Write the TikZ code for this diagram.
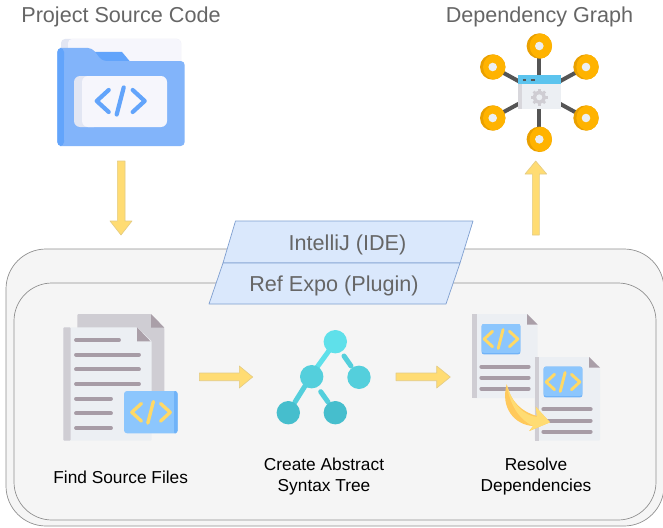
\documentclass[tikz,border=0pt]{standalone}
\usepackage{fontspec}
\setmainfont{Liberation Sans}
\definecolor{boxfill}{HTML}{F5F5F5}
\definecolor{boxline}{HTML}{909090}
\definecolor{yel}{HTML}{FFDC73}
\definecolor{yelline}{HTML}{E3CB84}
\definecolor{para}{HTML}{DAE8FC}
\definecolor{paraline}{HTML}{7F9FD0}
\definecolor{greytext}{HTML}{666666}
\definecolor{foldb}{HTML}{82B4FA}
\definecolor{foldd}{HTML}{62A4FB}
\definecolor{paper}{HTML}{F6F6FC}
\definecolor{papers}{HTML}{E2E6F3}
\definecolor{docw}{HTML}{ECEFF3}
\definecolor{docg}{HTML}{CFCDD3}
\definecolor{docf}{HTML}{AA9FA8}
\definecolor{lineg}{HTML}{A79CA6}
\definecolor{chip}{HTML}{8CC6FD}
\definecolor{chipd}{HTML}{70B3F8}
\definecolor{glyphy}{HTML}{FFD966}
\definecolor{orgl}{HTML}{FFB300}
\definecolor{orgd}{HTML}{E9A000}
\definecolor{stem}{HTML}{555555}
\definecolor{wbar}{HTML}{5CC4EE}
\definecolor{tealA}{HTML}{5FE0EA}
\definecolor{tealB}{HTML}{54CFDC}
\definecolor{tealC}{HTML}{46BECD}
\tikzset{
  outerbox/.style={draw=boxline,fill=boxfill,line width=.7pt,rounded corners=40pt},
  innerbox/.style={draw=boxline,fill=boxfill,line width=.7pt,rounded corners=38pt},
  blockarrow/.style={fill=yel,draw=yelline,line width=.6pt,line join=round},
  paragon/.style={fill=para,draw=paraline,line width=.7pt,line join=round},
  headtext/.style={text=greytext,font=\fontsize{21.6}{26}\selectfont,inner sep=0pt},
  paratext/.style={text=greytext,font=\fontsize{21.6}{26}\selectfont,inner sep=0pt},
  steptext/.style={text=black,font=\fontsize{17.3}{21}\selectfont,align=center,inner sep=0pt},
  docline/.style={draw=lineg,line width=3.8pt,line cap=round},
  branch/.style={line width=5pt,line cap=round},
}
% code glyph: centre x, centre y, scale, colour
\newcommand{\codeglyph}[4]{%
  \begin{scope}[shift={(#1,#2)},x=#3pt,y=-#3pt,line cap=round,line join=round,line width=#3*4.2pt,draw=#4]
    \draw (-12,-11) -- (-24,0) -- (-12,11);
    \draw (12,-11) -- (24,0) -- (12,11);
    \draw (3,-13.5) -- (-4,13.5);
  \end{scope}}
% hub disc
\newcommand{\hubdisc}[2]{%
  \begin{scope}
    \fill[orgd] (#1,#2) circle[radius=12.7pt];
    \clip (#1,#2) circle[radius=12.7pt];
    \fill[orgl] (#1+3,#2) circle[radius=12.7pt];
  \end{scope}
  \fill[docw] (#1,#2) circle[radius=4.3pt];}
\begin{document}
\begin{tikzpicture}[x=1pt,y=-1pt]
\useasboundingbox (0,0) rectangle (663,527);
\fill[white] (0,0) rectangle (663,527);
% containers
\draw[outerbox] (6,249) rectangle (664,526);
\draw[innerbox] (14,283) rectangle (656,520);
% parallelograms
\draw[paragon] (235.5,221) -- (473,221) -- (460,263) -- (223,263) -- cycle;
\draw[paragon] (223,263) -- (460,263) -- (446,304) -- (209,304) -- cycle;
\node[paratext] (ide) at (347.5,244.5) {IntelliJ (IDE)};
\node[paratext] (plugin) at (334,285.5) {Ref Expo (Plugin)};
% titles
\node[headtext] (srchead) at (121,16.5) {Project Source Code};
\node[headtext] (graphhead) at (539.5,16.5) {Dependency Graph};
% folder
\fill[papers,rounded corners=4pt] (61,39) rectangle (181,70);
\fill[paper,rounded corners=4pt] (68,39) rectangle (181,70);
\fill[foldd] (92,52) -- (122,52) -- (129.5,61) -- (102,61) -- cycle;
\fill[foldb,rounded corners=4pt] (57.3,146) -- (57.3,48) -- (92,48) -- (102,61) -- (184.7,61) -- (184.7,146) -- cycle;
\fill[foldd,rounded corners=4pt] (64,146) -- (57.3,146) -- (57.3,48) -- (64,48) -- cycle;
\fill[foldb] (64,60) rectangle (70,140);
\fill[papers,rounded corners=6pt] (74,76) rectangle (100,127);
\fill[paper,rounded corners=6pt] (82,76) rectangle (167,127);
\codeglyph{120.7}{101}{1}{foldd}
% arrows
\draw[blockarrow] (117.3,161) -- (125,161) -- (125,221) -- (132,221) -- (121,235) -- (110,221) -- (117.3,221) -- cycle;
\draw[blockarrow] (532.3,235) -- (539.3,235) -- (539.3,174) -- (546.7,174) -- (535.7,161) -- (525,174) -- (532.3,174) -- cycle;
\draw[blockarrow] (199.3,373) -- (239.3,373) -- (239.3,366) -- (252.7,377) -- (239.3,388) -- (239.3,380.7) -- (199.3,380.7) -- cycle;
\draw[blockarrow] (396,373) -- (436.7,373) -- (436.7,366) -- (450.3,377) -- (436.7,388) -- (436.7,380.7) -- (396,380.7) -- cycle;
% dependency graph
\foreach \px/\py in {539.3/46,492.7/67,586/67,492.7/118,586/118,539.3/139.3}{
  \draw[stem,line width=4pt] (539.3,92.5) -- (\px,\py);
}
\hubdisc{539.3}{46}\hubdisc{492.7}{67}\hubdisc{586}{67}\hubdisc{492.7}{118}\hubdisc{586}{118}\hubdisc{539.3}{139.3}
\fill[docw] (518.3,75.3) rectangle (560.7,109.3);
\fill[docg!80!white] (518.3,84) rectangle (522,109.3);
\fill[wbar] (518.3,75.3) rectangle (560.7,84);
\draw[stem,line width=1.5pt] (522.5,80) -- (526,80) (531,80) -- (535,80);
\begin{scope}[shift={(539.3,97.3)}]
  \foreach \a in {0,45,...,315}{
    \draw[docg,line width=2.8pt,rotate=\a] (0,0) -- (8.2,0);
  }
  \fill[docg] (0,0) circle[radius=6.5pt];
  \fill[docw] (0,0) circle[radius=3pt];
\end{scope}
% source files
\fill[docg,rounded corners=1pt] (77.3,314) -- (151,314) -- (164.3,327.7) -- (164.3,400) -- (77.3,400) -- cycle;
\fill[docf] (151,314) -- (164.3,327.7) -- (151,327.7) -- cycle;
\fill[docw,rounded corners=1pt] (63.3,440.7) -- (63.3,327.3) -- (137,327.3) -- (151.7,341.3) -- (151.7,440.7) -- cycle;
\fill[docg,rounded corners=1pt] (63.3,440.7) -- (63.3,327.3) -- (70.7,327.3) -- (70.7,440.7) -- cycle;
\fill[docf] (137,327.3) -- (150.5,341.3) -- (137,341.3) -- cycle;
\foreach \ly/\lx in {340/119,354.7/139,369.3/139,384/139,398.7/111,413.3/111,428/111}{
  \draw[docline] (76,\ly) -- (\lx,\ly);
}
\fill[chip,rounded corners=3pt] (124,391) rectangle (177.7,433.3);
\fill[chipd,rounded corners=3pt] (173,391) rectangle (177.7,433.3);
\fill[chip] (170,391) rectangle (173.5,433.3);
\codeglyph{151}{412.3}{.8}{glyphy}
% tree
\draw[branch,color=tealA] (329.5,350) -- (316.5,368);
\draw[branch,color=tealB] (344,356) -- (351,366);
\draw[branch,color=tealB] (305,386) -- (295,402);
\draw[branch,color=tealB] (320.7,391.7) -- (328,402);
\fill[tealA] (335.3,341.7) circle[radius=11.7pt];
\fill[tealB] (311.7,376.7) circle[radius=11.7pt];
\fill[tealB] (359,377.3) circle[radius=11.7pt];
\fill[tealC] (288.3,412.7) circle[radius=11.7pt];
\fill[tealC] (335.3,412.7) circle[radius=11.7pt];
% resolve docs
\fill[docw,rounded corners=1pt] (472.3,398) -- (472.3,314) -- (527,314) -- (537.7,324.5) -- (537.7,398) -- cycle;
\fill[docg] (472.3,314) rectangle (477.3,398);
\fill[docf] (527,314) -- (537.7,324.5) -- (527,324.5) -- cycle;
\fill[chipd,rounded corners=2pt] (481.7,324) rectangle (520.3,354.3);
\fill[chip,rounded corners=2pt] (481.7,324) rectangle (520.3,352.8);
\codeglyph{501}{339}{.7}{glyphy}
\foreach \ly in {366.7,377.7,388.7}{\draw[docline] (481.3,\ly) -- (528.7,\ly);}
\fill[docw,rounded corners=1pt] (534.7,440.7) -- (534.7,357) -- (589,357) -- (600,367.7) -- (600,440.7) -- cycle;
\fill[docg] (534.7,357) rectangle (539,440.7);
\fill[docf] (589,357) -- (600,367.7) -- (589,367.7) -- cycle;
\fill[chipd,rounded corners=2pt] (543.7,366.7) rectangle (582.3,397.3);
\fill[chip,rounded corners=2pt] (543.7,366.7) rectangle (582.3,395.8);
\codeglyph{563}{382}{.7}{glyphy}
\foreach \ly in {409.3,420.7,431.7}{\draw[docline] (543.3,\ly) -- (590.7,\ly);}
% curved arrow
\fill[yel!80!orange] (506.7,384.3) .. controls (511,402) and (522,412) .. (537,416) -- (535.7,406.7) -- (550,422.3) -- (529.3,431) -- (533,426) .. controls (515,425) and (500,408) .. (506.7,384.3) -- cycle;
\fill[yel] (506.7,384.3) .. controls (512,404) and (524,416) .. (537,417) -- (535.7,406.7) -- (550,422.3) -- (529.3,431) -- (533,426) .. controls (522,421) and (510,408) .. (506.7,384.3) -- cycle;
% step labels
\node[steptext] (find) at (120.7,477.5) {Find Source Files};
\node[steptext] (ast) at (324,477) {Create Abstract\\Syntax Tree};
\node[steptext] (res) at (536,477) {Resolve\\Dependencies};
\end{tikzpicture}
\end{document}
